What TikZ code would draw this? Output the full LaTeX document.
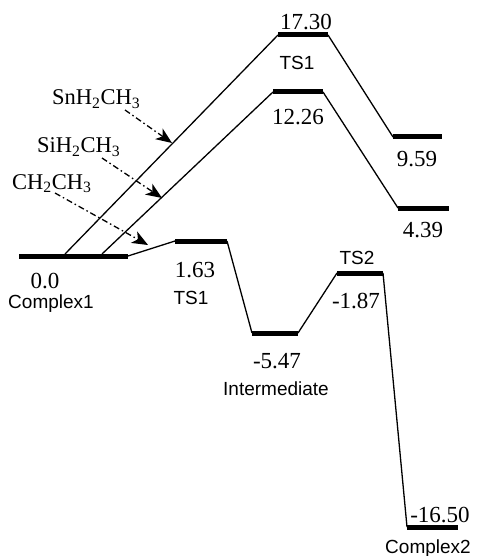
\documentclass[tikz,border=0pt]{standalone}
\usepackage{fontspec}
\setmainfont{Liberation Serif}
\newfontfamily\labelsans{Liberation Sans}
\usetikzlibrary{arrows.meta}

\tikzset{
  level/.style={line width=5pt},
  path/.style={line width=1.3pt},
  energy/.style={font=\fontsize{23}{26}\selectfont, anchor=base, inner sep=0pt},
  state/.style={font=\labelsans\fontsize{19}{22}\selectfont, anchor=base, inner sep=0pt},
  species/.style={font=\fontsize{22.5}{26}\selectfont, anchor=base west, inner sep=0pt},
  pointer/.style={line width=1.3pt, dash pattern=on 6pt off 3pt on 1.5pt off 3pt,
    -{Stealth[length=16pt,width=13pt,inset=4.5pt]}}
}

\begin{document}
\begin{tikzpicture}[x=1pt,y=-1pt]
\useasboundingbox (0,0) rectangle (477,556);

% energy levels, common path (CH2CH3)
\coordinate (c1a) at (19,256);   \coordinate (c1b) at (128,256);
\coordinate (tsa) at (175,241);  \coordinate (tsb) at (227,241);
\coordinate (ima) at (252,333);  \coordinate (imb) at (298,333);
\coordinate (tta) at (337,273);  \coordinate (ttb) at (383,273);
\coordinate (c2a) at (407,527);  \coordinate (c2b) at (458,527);
% SnH2CH3 path
\coordinate (snS) at (65,254);
\coordinate (snTa) at (278,35);  \coordinate (snTb) at (328,35);
\coordinate (snPa) at (393,137); \coordinate (snPb) at (442,137);
% SiH2CH3 path
\coordinate (siS) at (102,254);
\coordinate (siTa) at (273,92);  \coordinate (siTb) at (323,92);
\coordinate (siPa) at (398,208); \coordinate (siPb) at (449,208);

% horizontal levels
\draw[level] (c1a) -- (c1b);
\draw[level] (tsa) -- (tsb);
\draw[level] (ima) -- (imb);
\draw[level] (tta) -- (ttb);
\draw[level] (c2a) -- (c2b);
\draw[level] (snTa) -- (snTb);
\draw[level] (snPa) -- (snPb);
\draw[level] (siTa) -- (siTb);
\draw[level] (siPa) -- (siPb);

% connecting lines
\draw[path] (c1b) -- (tsa);
\draw[path] (tsb) -- (ima);
\draw[path] (imb) -- (tta);
\draw[path] (ttb) -- (c2a);
\draw[path] (snS) -- (snTa);
\draw[path] (snTb) -- (snPa);
\draw[path] (siS) -- (siTa);
\draw[path] (siTb) -- (siPa);

% energies
\node[energy] (e0)   at (45,288)  {0.0};
\node[energy] (e1)   at (195,277) {1.63};
\node[energy] (e2)   at (277,368) {-5.47};
\node[energy] (e3)   at (356,308) {-1.87};
\node[energy] (e4)   at (440,522) {-16.50};
\node[energy] (e5)   at (306,30)  {17.30};
\node[energy] (e6)   at (298,125) {12.26};
\node[energy] (e7)   at (417,167) {9.59};
\node[energy] (e8)   at (423,237) {4.39};

% state names
\node[state] (s1) at (51,308)  {Complex1};
\node[state] (s2) at (191,304) {TS1};
\node[state] (s3) at (276,395) {Intermediate};
\node[state] (s4) at (357,264) {TS2};
\node[state] (s5) at (428,553) {Complex2};
\node[state] (s6) at (297,70)  {TS1};

% species labels
\node[species] (sn) at (52,105) {SnH\textsubscript{2}CH\textsubscript{3}};
\node[species] (si) at (37,153) {SiH\textsubscript{2}CH\textsubscript{3}};
\node[species] (ch) at (12,189) {CH\textsubscript{2}CH\textsubscript{3}};

% pointers to the paths
\coordinate (snT) at (172,143);
\coordinate (siT) at (162,198);
\coordinate (chT) at (148,245);
\draw[pointer] (125,110) -- (snT);
\draw[pointer] (102,158) -- (siT);
\draw[pointer] (55,193) -- (chT);
\end{tikzpicture}
\end{document}
